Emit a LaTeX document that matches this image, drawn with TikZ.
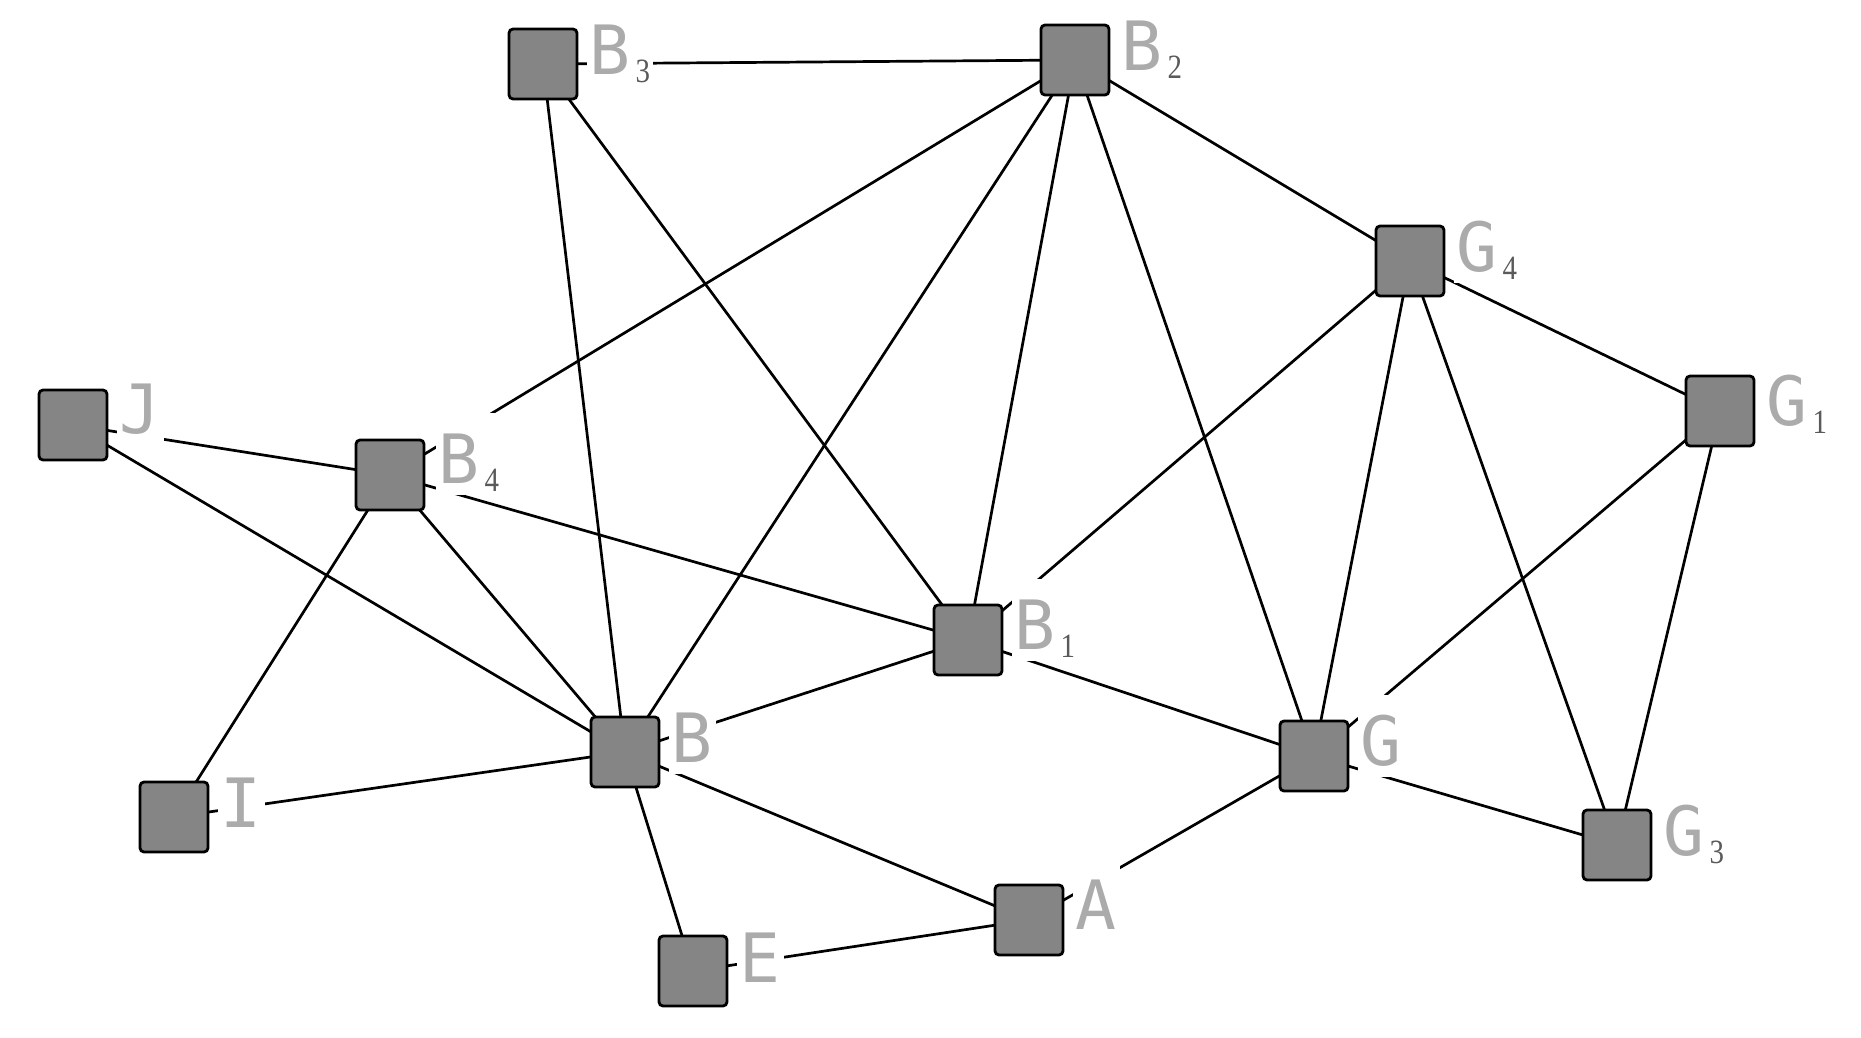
\documentclass[tikz,border=0pt]{standalone}
\usepackage{fontspec}
\usetikzlibrary{backgrounds}
\newfontfamily\labfont[FakeStretch=1.0]{DejaVu Sans Mono}
\newfontfamily\subfont[FakeStretch=0.85]{Liberation Serif}
\definecolor{vfill}{HTML}{858585}
\definecolor{labcol}{HTML}{ABABAB}
\definecolor{subcol}{HTML}{5A5A5A}
\newcommand{\sbs}[1]{\hspace{5pt}\raisebox{-8pt}{\subfont\fontsize{34}{36}\selectfont\color{subcol}#1}\hspace{12pt}}
\begin{document}
\begin{tikzpicture}[x=1pt,y=-1pt,
  vert/.style={draw=black, line width=2.8pt, fill=vfill, rounded corners=4pt, minimum width=68pt, minimum height=70pt, inner sep=0pt},
  lab/.style={fill=white, anchor=base west, inner xsep=3pt, inner ysep=0pt, text height=70pt, text depth=12pt, text=labcol, font=\labfont\fontsize{68}{70}\selectfont},
  edge/.style={draw=black, line width=2.7pt}]
\useasboundingbox (0,0) rectangle (1861,1037);
% vertices
\node[vert] (B3) at (543,64) {};
\node[vert] (B2) at (1075,60) {};
\node[vert] (G4) at (1410,261) {};
\node[vert] (G1) at (1720,411) {};
\node[vert] (J) at (73,425) {};
\node[vert] (B4) at (390,475) {};
\node[vert] (B1) at (968,640) {};
\node[vert] (B) at (625,752) {};
\node[vert] (I) at (174,817) {};
\node[vert] (E) at (693,971) {};
\node[vert] (A) at (1029,920) {};
\node[vert] (G) at (1314,756) {};
\node[vert] (G3) at (1617,845) {};
% labels
\node[lab] (lB3) at ([xshift=8pt,yshift=-10pt]B3.east) {B\sbs{3}};
\node[lab] (lB2) at ([xshift=8pt,yshift=-10pt]B2.east) {B\sbs{2}};
\node[lab] (lG4) at ([xshift=8pt,yshift=-10pt]G4.east) {G\sbs{4}};
\node[lab] (lG1) at ([xshift=8pt,yshift=-14pt]G1.east) {G\sbs{1}};
\node[lab] (lJ) at ([xshift=8pt,yshift=-8pt]J.east) {J};
\node[lab] (lB4) at ([xshift=10pt,yshift=-8pt]B4.east) {B\sbs{4}};
\node[lab] (lB1) at ([xshift=8pt,yshift=-9pt]B1.east) {B\sbs{1}};
\node[lab] (lB) at ([xshift=8pt,yshift=-10pt]B.east) {B};
\node[lab] (lI) at ([xshift=8pt,yshift=-10pt]I.east) {I};
\node[lab] (lE) at ([xshift=8pt,yshift=-11pt]E.east) {E};
\node[lab] (lA) at ([xshift=8pt,yshift=-9pt]A.east) {A};
\node[lab] (lG) at ([xshift=8pt,yshift=-9pt]G.east) {G};
\node[lab] (lG3) at ([xshift=8pt,yshift=-10pt]G3.east) {G\sbs{3}};
% edges
\begin{pgfonlayer}{background}
\fill[white] (0,0) rectangle (1861,1037);
\foreach \a/\b in {B3/B2, B3/B, B3/B1, B2/B4, B2/B, B2/B1, B2/G, B2/G4,
  G4/G1, G4/B1, G4/G, G4/G3, G1/G, G1/G3, J/B4, J/B, B4/B, B4/I, B4/B1,
  B/B1, B/I, B/E, B/A, E/A, A/G, B1/G, G/G3}
  \draw[edge] (\a.center) -- (\b.center);
\end{pgfonlayer}
\end{tikzpicture}
\end{document}
